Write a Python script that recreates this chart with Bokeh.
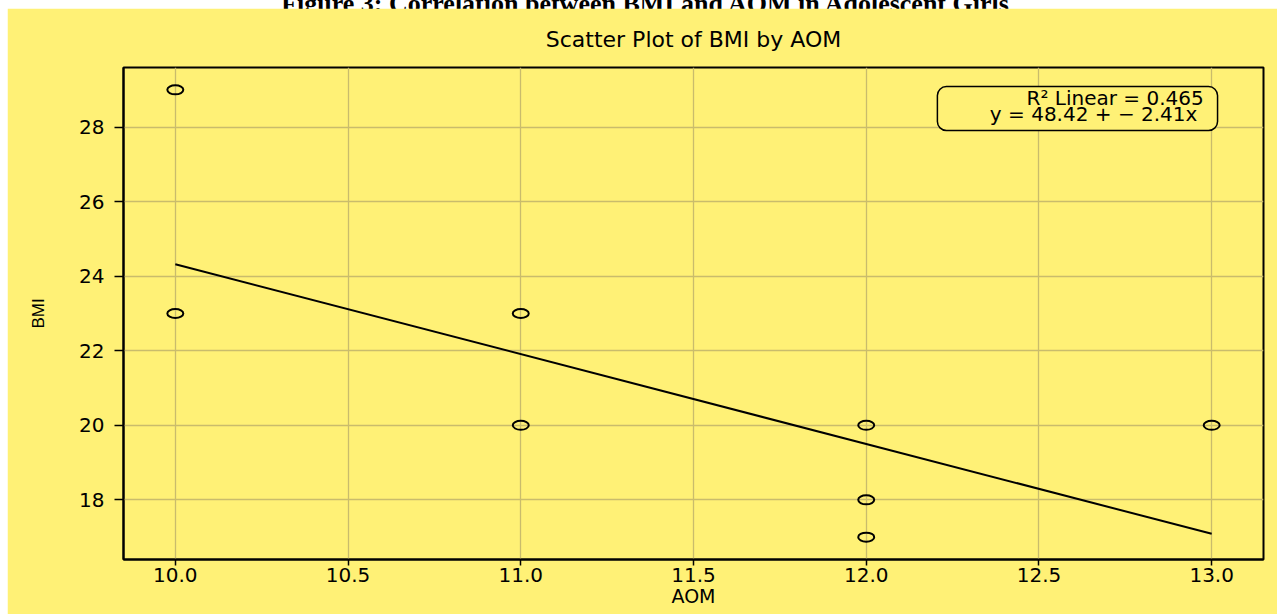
from bokeh.plotting import figure
from bokeh.models import Div, Label, BoxAnnotation, Range1d, FixedTicker, PrintfTickFormatter
from bokeh.layouts import column
from bokeh.embed import file_html
from bokeh.resources import INLINE

# ---- data ----
aom = [10, 10, 11, 11, 12, 12, 12, 13]
bmi = [29, 23, 23, 20, 20, 18, 17, 20]
fit_intercept = 48.42
fit_slope = -2.41
r_squared = 0.465
x_ticks = [10.0, 10.5, 11.0, 11.5, 12.0, 12.5, 13.0]
y_ticks = [18, 20, 22, 24, 26, 28]
caption_text = "Figure 3: Correlation between BMI and AOM in Adolescent Girls"
title_text = "Scatter Plot of BMI by AOM"

fit_x = [min(aom), max(aom)]
fit_y = [fit_intercept + fit_slope * v for v in fit_x]

YELLOW = "#fff176"
GRID = "#c9bc6c"
FONT = "DejaVu Sans"

p = figure(width=1270, height=606, output_backend="svg", toolbar_location=None,
           x_range=Range1d(9.85, 13.15), y_range=Range1d(16.4, 29.6),
           min_border_left=116, min_border_right=14, min_border_top=58, min_border_bottom=55,
           background_fill_color=YELLOW, border_fill_color=YELLOW,
           title=title_text)
p.margin = (0, 0, 0, 7)

p.title.align = "center"
p.title.text_font = FONT
p.title.text_font_size = "22px"
p.title.text_font_style = "normal"
p.title.text_color = "black"
p.title.standoff = 32

p.outline_line_color = "black"
p.outline_line_width = 2
p.outline_line_alpha = 1

for ax in (p.xaxis[0], p.yaxis[0]):
    ax.axis_line_color = "black"
    ax.axis_line_width = 2
    ax.major_tick_line_color = "black"
    ax.major_tick_line_width = 1.5
    ax.minor_tick_line_color = None
    ax.major_tick_in = 0
    ax.major_label_text_font = FONT
    ax.major_label_text_font_size = "20px"
    ax.major_label_text_color = "black"
    ax.axis_label_text_font = FONT
    ax.axis_label_text_font_style = "normal"
    ax.axis_label_text_color = "black"

p.xaxis.ticker = FixedTicker(ticks=x_ticks)
p.xaxis.formatter = PrintfTickFormatter(format="%.1f")
p.xaxis.major_tick_out = 6
p.xaxis.major_label_standoff = 2
p.xaxis.axis_label = "AOM"
p.xaxis.axis_label_text_font_size = "19px"
p.xaxis.axis_label_standoff = 0

p.yaxis.ticker = FixedTicker(ticks=y_ticks)
p.yaxis.major_tick_out = 9
p.yaxis.major_label_standoff = 10
p.yaxis.axis_label = "BMI"
p.yaxis.axis_label_text_font = "Liberation Sans"
p.yaxis.axis_label_text_font_size = "17px"
p.yaxis.axis_label_standoff = 28

p.xgrid.grid_line_color = GRID
p.ygrid.grid_line_color = GRID
p.xgrid.grid_line_width = 1.3
p.ygrid.grid_line_width = 1.3

p.line(fit_x, fit_y, line_color="black", line_width=2)
p.ellipse(x=aom, y=bmi, width=16, height=9, width_units="screen", height_units="screen",
          fill_color=None, line_color="black", line_width=2)

box = BoxAnnotation(left=12.206, right=13.017, bottom=27.909, top=29.087,
                    fill_color=YELLOW, fill_alpha=1, line_color="black", line_alpha=1,
                    line_width=1.5, border_radius=9)
p.add_layout(box)
p.add_layout(Label(x=12.977, y=28.77, text=f"R² Linear = {r_squared:.3f}",
                   text_align="right", text_baseline="middle",
                   text_font=FONT, text_font_size="20px", text_color="black"))
sign = "+" if fit_slope >= 0 else "+  −"
p.add_layout(Label(x=12.977, y=28.34,
                   text=f"y = {fit_intercept:.2f} {sign} {abs(fit_slope):.2f}x",
                   text_align="right", text_baseline="middle",
                   text_font=FONT, text_font_size="20px", text_color="black"))

caption = Div(text=('<div style="font-family: \'Liberation Serif\', serif; font-weight: bold; '
                    'font-size: 26px; line-height: 26px; text-align: center; width: 1290px; '
                    'margin-top: -15px; white-space: nowrap;">' + caption_text + '</div>'),
              width=1277, height=8, margin=(0, 0, 0, 0))

layout = column(caption, p, spacing=0)

open("out.html", "w").write(file_html(layout, INLINE))
